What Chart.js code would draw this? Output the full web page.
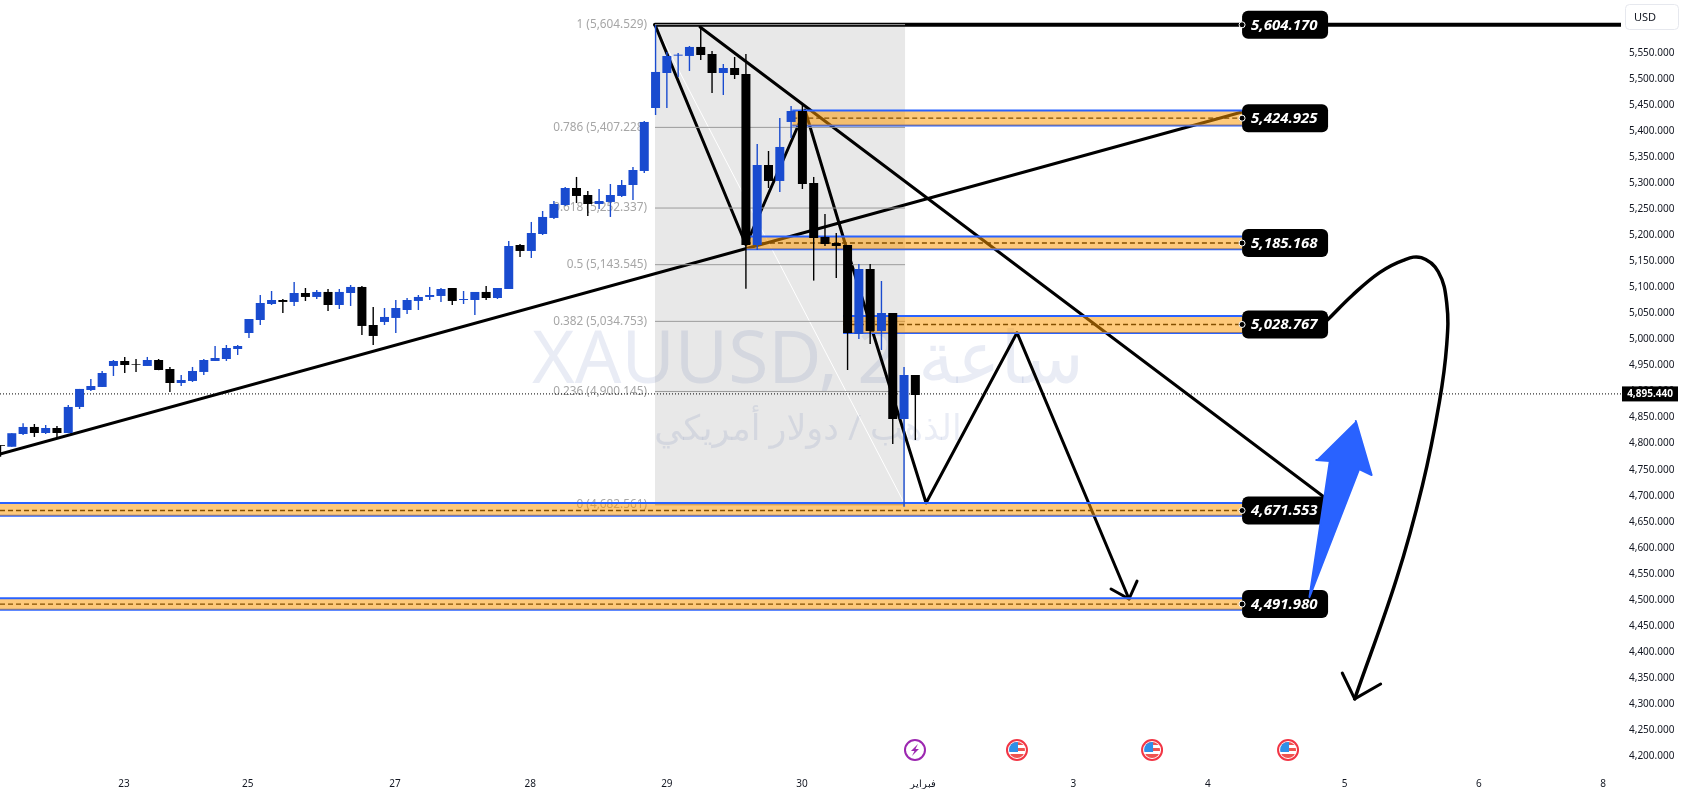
<!DOCTYPE html>
<html lang="ar">
<head>
<meta charset="utf-8">
<title>XAUUSD</title>
<script src="https://cdn.jsdelivr.net/npm/chart.js@4/dist/chart.umd.js"></script>
<style>
  html, body { margin: 0; padding: 0; background: #fff; overflow: hidden; }
  canvas { display: block; }
</style>
</head>
<body>
<canvas id="chart" width="1683" height="789"></canvas>
<script>
// candles (bar number = position in the arrays)
const candleOpen = [4797,4794,4818.5,4832,4820.4,4830,4820.4,4870.4,4903,4908.8,4949.1,4958.7,4952.9,4949.1,4960.6,4943.3,4916.4,4920.3,4937.6,4958.7,4962.5,4981.7,5012.4,5037.4,5068.1,5075.8,5072,5089.2,5081.6,5091.2,5066.2,5089.2,5100.8,5027.8,5033.6,5041.3,5056.6,5073.9,5081.6,5083.5,5098.8,5075.8,5075.8,5091.2,5079.6,5096.9,5181.4,5169.9,5202.5,5233.3,5258.2,5290.8,5277.4,5260.1,5264,5275.5,5296.6,5323.5,5444.4,5511.6,5544.9,5544.3,5561.6,5548.1,5511.6,5521.2,5509.7,5181.4,5335,5304.3,5417.6,5438.7,5300.4,5196.8,5185.2,5181.4,5010.5,5135.3,5016.3,5050.8,4847.3,4931.8];
const candleHigh = [4797,4820,4839,4837.7,4835.8,4833.9,4874.2,4905,4924.1,4939.5,4960.6,4966.4,4962.5,4966.4,4962.5,4947.2,4931.8,4947.2,4962.5,4987.5,4989.4,4989.4,5039.3,5085.4,5093.1,5077.7,5110.4,5098.8,5095,5096.9,5096.9,5104.6,5102.7,5062.4,5060.4,5075.8,5079.6,5085.4,5100.8,5098.8,5098.8,5093.1,5091.2,5102.7,5098.8,5189.1,5183.3,5225.6,5246.7,5265.9,5292.8,5312,5285,5288.9,5298.5,5306.2,5331.2,5419.5,5603.8,5552,5550,5563.5,5600.6,5553.9,5528.9,5542.4,5548.1,5375.3,5361.9,5425.2,5448.3,5450.2,5312,5240.9,5204.4,5181.4,5144.9,5144.9,5112.3,5050.8,4947.2,4931.8];
const candleLow = [4775,4794,4816.6,4812.8,4818.5,4812.8,4820,4866.5,4901.1,4908.8,4929.9,4935.6,4937.6,4949,4941,4899.2,4910.7,4918.4,4931.8,4958.7,4958.7,4970.2,5002.8,5027.8,5066.2,5050.9,5064.3,5073.9,5077.7,5054.7,5058.5,5064.3,5008.6,4989.4,5027.8,5012.4,5049,5056.6,5075.8,5072,5066.2,5068.1,5047,5075.8,5077.7,5096.9,5158.4,5156.4,5200.6,5231.3,5256.3,5262,5237.1,5250.5,5235.2,5273.6,5267.8,5319.6,5431,5444.4,5504,5515.5,5536.6,5473.2,5469.4,5500.1,5097.6,5171.8,5290.8,5283.2,5386.8,5288.9,5113,5179.5,5118,4941.4,5000.9,4991.3,4979.8,4799.3,4679,4807];
const candleClose = [4795.5,4820,4832,4820.4,4830,4820.4,4870.4,4905,4910.7,4935.6,4958.7,4951,4951.6,4960.6,4941.4,4916.4,4922.2,4939.5,4960.6,4964.4,4983.6,4987.5,5039.3,5070,5075.8,5072,5089.2,5081.6,5091.2,5066.2,5091.2,5100.8,5025.9,5006.7,5043.2,5060.4,5075.8,5081.6,5085.4,5096.9,5073.9,5077.7,5091.2,5079.6,5098.8,5179.5,5169.9,5204.4,5235.2,5260.1,5290.8,5275.5,5260.1,5265.9,5277.4,5296.6,5325.4,5417.6,5513.6,5544.3,5546.8,5561.6,5546.2,5511.6,5521.2,5507.8,5181.4,5335,5304.3,5369.6,5438.7,5298.5,5194.8,5183.3,5179.5,5012.4,5135.3,5016.3,5050.8,4847.3,4931.8,4893.4];

// axes
const yTicks = [5550,5500,5450,5400,5350,5300,5250,5200,5150,5100,5050,5000,4950,4900,4850,4800,4750,4700,4650,4600,4550,4500,4450,4400,4350,4300,4250,4200];
const xTickBars = [10.93,21.9,34.93,46.9,59,70.97,81.65,95,106.9,119,130.9,141.9];
const xTickLabels = ['23','25','27','28','29','30','فبراير','3','4','5','6','8'];
const xMin = -0.044, xMax = 143.48;
const yMin = 4177.2, yMax = 5651.76;

// fib retracement
const fibPrices = [5604.529,5407.228,5252.337,5143.545,5034.753,4900.145,4682.561];
const fibLabels = ['1 (5,604.529)','0.786 (5,407.228)','0.618 (5,252.337)','0.5 (5,143.545)','0.382 (5,034.753)','0.236 (4,900.145)','0 (4,682.561)'];
const fibStartBar = 57.95, fibEndBar = 80.09;

// supply / demand zones
const zoneMid = [5424.925,5185.168,5028.767,4671.553,4491.98];
const zoneTop = [5439.4,5197.7,5045.1,4686,4503];
const zoneBottom = [5410.6,5173,5012.4,4661.3,4481];
const zoneStartBar = [70.1,66,74.6,-0.044,-0.044];
const zoneEndBar = 109.93;

// price tags at the right end of the drawings
const tagPrices = [5604.17,5424.925,5185.168,5028.767,4671.553,4491.98];

const lastPrice = 4895.44;

// hand drawn lines as [bar, price]
const riseLine = [[-0.044,4780],[109.93,5436.7]];
const fallLine = [[61.94,5599.9],[117.07,4699.4]];
const topLine = [[57.95,5604.17],[143.48,5604.17]];
const zigzag = [[57.95,5604],[66.01,5181.4],[71.23,5440.6],[74.77,5185.2],[81.95,4686],[90,5013],[99.92,4501.7]];
const zigzagHead = [[98.33,4520.9],[99.92,4501.7],[100.63,4536.2]];
const curve = [[117.5,5037.6],[119.7,5085],[122.1,5128.4],[124.2,5152],[125.8,5157],[127.3,5130],[128.05,5070],[128.05,4990],[127.4,4880],[125.9,4720],[123.6,4540],[119.9,4310]];
const curveHead = [[118.8,4359.6],[119.9,4310],[122.2,4338.5]];
const blueArrow = [[120,4843.4],[121.4,4739.8],[120.3,4751.3],[115.9,4505.5],[117.7,4766.6],[116.5,4768.6]];

// economic calendar markers
const eventBars = [80.97,90,101.96,114];

const BLUE = '#194bcf';
const toXY = pts => pts.map(p => ({ x: p[0], y: p[1] }));
const price3 = v => v.toLocaleString('en-US', { minimumFractionDigits: 3, maximumFractionDigits: 3 });

function lineDs(label, pts, order, extra) {
  return Object.assign({
    type: 'line', label, data: toXY(pts), order,
    borderColor: '#000', borderWidth: 3, pointRadius: 0, tension: 0, fill: false,
    borderCapStyle: 'round', borderJoinStyle: 'round'
  }, extra || {});
}

const bars = candleOpen.map((_, i) => i);
const candleColor = candleClose.map((c, i) => c > candleOpen[i] ? BLUE : '#000');

const datasets = [
  lineDs('fibBox', [[fibStartBar,fibPrices[0]],[fibEndBar,fibPrices[0]],[fibEndBar,fibPrices[6]],[fibStartBar,fibPrices[6]]], 100,
    { borderWidth: 0, fill: 'shape', backgroundColor: 'rgba(0,0,0,0.09)' }),
  lineDs('fibTrend', [[fibStartBar,fibPrices[0]],[fibEndBar,fibPrices[6]]], 95, { borderColor: '#fff', borderWidth: 1 }),
  lineDs('last', [[xMin,lastPrice],[xMax,lastPrice]], 90, { borderWidth: 1, borderDash: [1,2], borderCapStyle: 'butt' }),
  lineDs('rise', riseLine, 80),
  lineDs('fall', fallLine, 80),
  lineDs('top', topLine, 80, { borderWidth: 4 }),
  lineDs('zigzag', zigzag, 80),
  lineDs('zigzagHead', zigzagHead, 80),
  lineDs('curve', curve, 2, { tension: 0.4, borderWidth: 3.5 }),
  lineDs('curveHead', curveHead, 1),
  lineDs('blueArrow', blueArrow, 0, { borderWidth: 2, borderColor: '#2962ff', fill: 'shape', backgroundColor: '#2962ff' })
];

fibPrices.forEach((p, i) => {
  datasets.push(lineDs('fib' + i, [[fibStartBar,p],[fibEndBar,p]], 70, { borderColor: '#9a9a9a', borderWidth: 1, borderCapStyle: 'butt' }));
});

zoneMid.forEach((p, i) => {
  const a = zoneStartBar[i];
  datasets.push(lineDs('zoneTop' + i, [[a,zoneTop[i]],[zoneEndBar,zoneTop[i]]], 60,
    { borderColor: '#2962ff', borderWidth: 2, fill: '+1', backgroundColor: 'rgba(253,152,0,0.52)', borderCapStyle: 'butt' }));
  datasets.push(lineDs('zoneBottom' + i, [[a,zoneBottom[i]],[zoneEndBar,zoneBottom[i]]], 60,
    { borderColor: '#2962ff', borderWidth: 2, borderCapStyle: 'butt' }));
  datasets.push(lineDs('zoneMid' + i, [[a,p],[zoneEndBar,p]], 60,
    { borderWidth: 1.3, borderDash: [5,3], borderCapStyle: 'butt' }));
});

datasets.push({
  type: 'bar', label: 'wicks', order: 31, grouped: false, barThickness: 1.4, inflateAmount: 0,
  data: bars.map(i => ({ x: i, y: [candleLow[i], candleHigh[i]] })),
  backgroundColor: candleColor
});
datasets.push({
  type: 'bar', label: 'bodies', order: 30, grouped: false, barThickness: 9, inflateAmount: 0,
  data: bars.map(i => ({ x: i, y: [candleOpen[i], candleClose[i]] })),
  backgroundColor: candleColor
});

function roundBox(ctx, x, y, w, h, r) {
  ctx.beginPath();
  ctx.roundRect(x, y, w, h, r);
}

function drawFlag(ctx, cx, cy) {
  ctx.save();
  ctx.beginPath();
  ctx.arc(cx, cy, 10, 0, Math.PI * 2);
  ctx.fillStyle = '#fff';
  ctx.fill();
  ctx.strokeStyle = '#f23645';
  ctx.lineWidth = 2;
  ctx.stroke();
  ctx.beginPath();
  ctx.arc(cx, cy, 8, 0, Math.PI * 2);
  ctx.clip();
  ctx.fillStyle = '#ef5350';
  ctx.fillRect(cx - 8, cy - 8, 16, 3);
  ctx.fillRect(cx, cy - 2, 8, 3);
  ctx.fillRect(cx - 8, cy + 4, 16, 4);
  ctx.fillStyle = '#2f8fe8';
  ctx.fillRect(cx - 8, cy - 8, 9, 10);
  ctx.restore();
}

function drawBolt(ctx, cx, cy) {
  ctx.save();
  ctx.beginPath();
  ctx.arc(cx, cy, 10, 0, Math.PI * 2);
  ctx.fillStyle = '#fff';
  ctx.fill();
  ctx.strokeStyle = '#9c27b0';
  ctx.lineWidth = 2;
  ctx.stroke();
  ctx.fillStyle = '#9c27b0';
  ctx.beginPath();
  ctx.moveTo(cx + 3, cy - 6);
  ctx.lineTo(cx - 4, cy + 1);
  ctx.lineTo(cx - 0.5, cy + 1);
  ctx.lineTo(cx - 3, cy + 6);
  ctx.lineTo(cx + 4, cy - 1);
  ctx.lineTo(cx + 0.5, cy - 1);
  ctx.closePath();
  ctx.fill();
  ctx.restore();
}

// text and other bits that sit around the datasets
const overlay = {
  id: 'overlay',
  beforeDatasetsDraw(chart) {
    const { ctx, scales: { x, y } } = chart;
    ctx.save();
    ctx.textAlign = 'center';
    ctx.fillStyle = 'rgba(41,70,160,0.1)';
    ctx.font = '73px "Noto Sans", "DejaVu Sans"';
    ctx.textBaseline = 'alphabetic';
    ctx.fillText('XAUUSD, 2 ساعة', 808, 383);
    ctx.font = '35px "Noto Sans", "DejaVu Sans"';
    ctx.direction = 'rtl';
    ctx.fillText('الذهب / دولار أمريكي', 808, 440);
    ctx.direction = 'ltr';
    ctx.textAlign = 'right';
    ctx.textBaseline = 'middle';
    ctx.fillStyle = '#a6a6a6';
    ctx.font = '11.8px "Noto Sans"';
    fibPrices.forEach((p, i) => ctx.fillText(fibLabels[i], x.getPixelForValue(fibStartBar) - 8, y.getPixelForValue(p)));
    ctx.restore();
  },
  afterDatasetDraw(chart, args) {
    if (chart.data.datasets[args.index].label !== 'curveHead') return;
    const { ctx, scales: { x, y } } = chart;
    const left = x.getPixelForValue(zoneEndBar);
    ctx.save();
    tagPrices.forEach(p => {
      const py = y.getPixelForValue(p);
      ctx.fillStyle = '#000';
      roundBox(ctx, left, py - 14, 86, 28, 6);
      ctx.fill();
      ctx.fillStyle = '#fff';
      ctx.font = 'italic bold 15px "Noto Sans"';
      ctx.textAlign = 'left';
      ctx.textBaseline = 'middle';
      ctx.fillText(price3(p), left + 9, py + 0.5);
      ctx.beginPath();
      ctx.arc(left, py, 3, 0, Math.PI * 2);
      ctx.fillStyle = '#000';
      ctx.fill();
      ctx.strokeStyle = '#fff';
      ctx.lineWidth = 1;
      ctx.stroke();
    });
    ctx.restore();
  },
  afterDraw(chart) {
    const { ctx, scales: { x, y } } = chart;
    ctx.save();
    // last price box
    const py = y.getPixelForValue(lastPrice);
    ctx.fillStyle = '#000';
    ctx.fillRect(1622, py - 7.5, 56, 15);
    ctx.fillStyle = '#fff';
    ctx.font = 'bold 10px "Noto Sans"';
    ctx.textAlign = 'center';
    ctx.textBaseline = 'middle';
    ctx.fillText(price3(lastPrice), 1650, py + 0.5);
    // currency button
    ctx.fillStyle = '#fff';
    ctx.strokeStyle = '#e6e8ee';
    ctx.lineWidth = 1;
    roundBox(ctx, 1625.5, 4.5, 53, 25, 4);
    ctx.fill();
    ctx.stroke();
    ctx.fillStyle = '#131722';
    ctx.font = '11px "Noto Sans"';
    ctx.textAlign = 'left';
    ctx.fillText('USD', 1634, 17.5);
    ctx.restore();
    // calendar icons
    eventBars.forEach((b, i) => {
      const cx = x.getPixelForValue(b);
      if (i === 0) drawBolt(ctx, cx, 750);
      else drawFlag(ctx, cx, 750);
    });
  }
};

new Chart(document.getElementById('chart'), {
  type: 'bar',
  data: { datasets },
  plugins: [overlay],
  options: {
    responsive: false,
    animation: false,
    events: [],
    layout: { padding: 0 },
    plugins: { legend: { display: false }, tooltip: { enabled: false } },
    scales: {
      x: {
        type: 'linear', min: xMin, max: xMax, offset: false,
        grid: { display: false }, border: { display: false },
        afterFit: s => { s.height = 21; s.paddingLeft = 0; s.paddingRight = 0; },
        afterBuildTicks: s => { s.ticks = xTickBars.map(v => ({ value: v })); },
        ticks: {
          autoSkip: false, maxRotation: 0, padding: 2, color: '#131722',
          font: { family: '"Noto Sans"', size: 10 },
          callback: (v, i) => xTickLabels[i]
        }
      },
      y: {
        type: 'linear', position: 'right', min: yMin, max: yMax, beginAtZero: false,
        grid: { display: false, drawTicks: false }, border: { display: false },
        // tick label padding would otherwise push the plot area down
        afterFit: s => { s.width = 62; s.paddingTop = 0; s.paddingBottom = 0; },
        afterBuildTicks: s => { s.ticks = yTicks.map(v => ({ value: v })); },
        ticks: {
          autoSkip: false, padding: 8, color: '#131722',
          font: { family: '"Noto Sans"', size: 10 },
          callback: v => price3(v)
        }
      }
    }
  }
});
</script>
</body>
</html>
